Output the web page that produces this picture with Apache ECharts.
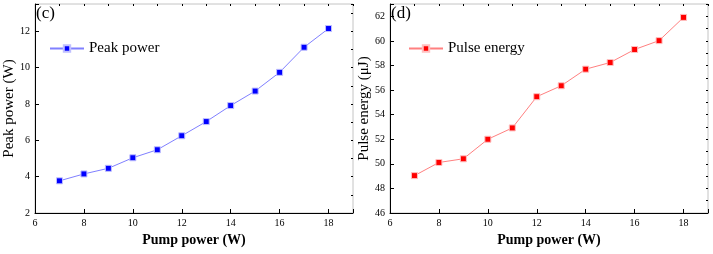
<!DOCTYPE html>
<html>
<head>
<meta charset="utf-8">
<script src="https://cdn.jsdelivr.net/npm/echarts@6/dist/echarts.min.js"></script>
<style>
  html, body { margin: 0; padding: 0; background: #fff; }
  #chart { width: 713px; height: 254px; }
</style>
</head>
<body>
<div id="chart"></div>
<script>
// pump power (W)
const pumpPower = [7, 8, 9, 10, 11, 12, 13, 14, 15, 16, 17, 18];
// peak power (W), panel (c)
const peakPower = [3.77, 4.15, 4.46, 5.04, 5.48, 6.25, 7.03, 7.91, 8.71, 9.74, 11.12, 12.15];
// pulse energy (uJ), panel (d)
const pulseEnergy = [49.04, 50.11, 50.41, 52.0, 52.92, 55.46, 56.35, 57.7, 58.24, 59.3, 60.02, 61.91];

const font = '"Liberation Serif", "Times New Roman", serif';

const pairs = (ys) => pumpPower.map((x, i) => [x, ys[i]]);
const evenOnly = (v) => (v % 2 === 0 ? String(v) : '');

let axisMajor = {
  axisLine: { lineStyle: { color: '#000', width: 1 } },
  axisTick: { inside: true, length: 4, lineStyle: { color: '#000' } },
  axisLabel: { color: '#000', fontSize: 10, fontFamily: font, formatter: evenOnly, margin: 5 },
  splitLine: { show: false },
  nameLocation: 'middle',
  nameTextStyle: { color: '#000', fontSize: 15, fontFamily: font }
};

let axisMinor = {
  axisLine: { show: false },
  axisTick: { inside: true, length: 2, lineStyle: { color: '#000' } },
  axisLabel: { show: false },
  splitLine: { show: false }
};

function xAxes(grid) {
  return [
    Object.assign({}, axisMajor, {
      type: 'value', gridIndex: grid, min: 6, max: 19, interval: 2,
      name: 'Pump power (W)', nameGap: 19,
      nameTextStyle: { color: '#000', fontSize: 14, fontWeight: 'bold', fontFamily: font }
    }),
    Object.assign({}, axisMinor, { type: 'value', gridIndex: grid, min: 6, max: 19, interval: 1 })
  ];
}

function yAxes(grid, min, max, name) {
  return [
    Object.assign({}, axisMajor, {
      type: 'value', gridIndex: grid, min: min, max: max, interval: 2,
      name: name, nameGap: 14
    }),
    Object.assign({}, axisMinor, { type: 'value', gridIndex: grid, min: min, max: max, interval: 1 })
  ];
}

let option = {
  backgroundColor: '#fff',
  animation: false,
  title: [
    { text: '(c)', left: 36, top: 5, padding: 0,
      textStyle: { fontFamily: font, fontSize: 17, fontWeight: 'normal', color: '#000' } },
    { text: '(d)', left: 391, top: 5, padding: 0,
      textStyle: { fontFamily: font, fontSize: 17, fontWeight: 'normal', color: '#000' } }
  ],
  legend: [
    { data: ['Peak power'], left: 49, top: 41, padding: 0, itemWidth: 34, itemHeight: 8,
      textStyle: { fontFamily: font, fontSize: 15, color: '#000' } },
    { data: ['Pulse energy'], left: 408, top: 41, padding: 0, itemWidth: 34, itemHeight: 8,
      textStyle: { fontFamily: font, fontSize: 15, color: '#000' } }
  ],
  grid: [
    { left: 35, top: 4, width: 318, height: 209, show: true, borderColor: '#c4c4c4', borderWidth: 1 },
    { left: 390, top: 4, width: 318, height: 209, show: true, borderColor: '#c4c4c4', borderWidth: 1 }
  ],
  xAxis: xAxes(0).concat(xAxes(1)),
  yAxis: yAxes(0, 2, 13.5, 'Peak power (W)').concat(yAxes(1, 46, 63, 'Pulse energy (μJ)')),
  series: [
    {
      name: 'Peak power', type: 'line', xAxisIndex: 0, yAxisIndex: 0,
      data: pairs(peakPower),
      symbol: 'rect', symbolSize: 6,
      lineStyle: { color: '#8080ff', width: 1 },
      itemStyle: { color: '#0000ff', borderColor: '#c0c0ff', borderWidth: 1 }
    },
    {
      name: 'Pulse energy', type: 'line', xAxisIndex: 2, yAxisIndex: 2,
      data: pairs(pulseEnergy),
      symbol: 'rect', symbolSize: 6,
      lineStyle: { color: '#ff8080', width: 1 },
      itemStyle: { color: '#ff0000', borderColor: '#ffc0c0', borderWidth: 1 }
    }
  ]
};

const chart = echarts.init(document.getElementById('chart'), null, { renderer: 'canvas' });
chart.setOption(option);
</script>
</body>
</html>
